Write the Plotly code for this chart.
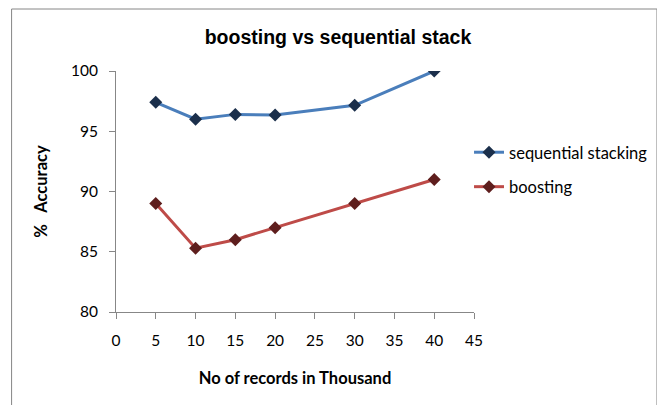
import plotly.graph_objects as go

records = [5, 10, 15, 20, 30, 40]
seq_stacking = [97.4, 96.0, 96.4, 96.35, 97.15, 100.0]
boosting = [89.0, 85.3, 86.0, 87.0, 89.0, 91.0]

# page body has an 8px margin, so figure coords = screen coords - 8
OFF = 8
W, H = 665 - OFF, 405 - OFF
L, R, T, B = 116 - OFF, 476 - OFF, 71 - OFF, 312 - OFF

def px(x):
    return (x - OFF - L) / (R - L)

def py(y):
    return (B - (y - OFF)) / (B - T)

fig = go.Figure()
fig.add_trace(go.Scatter(
    x=records, y=seq_stacking, name="sequential stacking", mode="lines+markers",
    legendgroup="a",
    line=dict(color="#4A7EBB", width=3),
    marker=dict(symbol="diamond", size=10, color="#1B2F4B", line=dict(width=0)),
))
fig.add_trace(go.Scatter(
    x=records, y=boosting, name="boosting", mode="lines+markers",
    legendgroup="b",
    line=dict(color="#BE4B48", width=3),
    marker=dict(symbol="diamond", size=10, color="#5E1E1D", line=dict(width=0)),
))

fig.update_layout(
    width=W, height=H,
    margin=dict(l=L, r=W - R, t=T, b=H - B),
    paper_bgcolor="white", plot_bgcolor="white",
    title=dict(text="<b>boosting vs sequential stack</b>", x=(338 - OFF) / W, xanchor="center",
               y=1 - (37 - OFF) / H, yanchor="middle",
               font=dict(family="Liberation Sans", size=19.5, color="black")),
    font=dict(family="Lato", size=15, color="black"),
    showlegend=True,
    legend=dict(x=px(471), y=py(135), xanchor="left", yanchor="top",
                font=dict(family="Lato", size=16.5, color="black"),
                bgcolor="rgba(0,0,0,0)", tracegroupgap=10, itemwidth=30),
    xaxis=dict(range=[0, 45], tickvals=[0, 5, 10, 15, 20, 25, 30, 35, 40, 45],
               showgrid=False, zeroline=False, showline=True, linecolor="#878787", linewidth=1,
               ticks="outside", ticklen=6, tickcolor="#878787", ticklabelstandoff=8,
               tickfont=dict(family="Lato", size=15.5),
               title=dict(text="<b>No of records in Thousand</b>", standoff=24,
                          font=dict(family="Lato", size=16.5))),
    yaxis=dict(range=[80, 100], tickvals=[80, 85, 90, 95, 100],
               showgrid=False, zeroline=False, showline=True, linecolor="#878787", linewidth=1,
               ticks="outside", ticklen=6, tickcolor="#878787", ticklabelstandoff=8,
               tickfont=dict(family="Lato", size=15.5),
               title=dict(text="<b>%   Accuracy</b>", standoff=19,
                          font=dict(family="Lato", size=16.5))),
)

fig.add_shape(type="rect", xref="paper", yref="paper",
              x0=px(11), x1=px(660), y0=py(420), y1=py(9),
              line=dict(color="#868686", width=1), fillcolor="rgba(0,0,0,0)", layer="below")

fig.write_html("out.html")
